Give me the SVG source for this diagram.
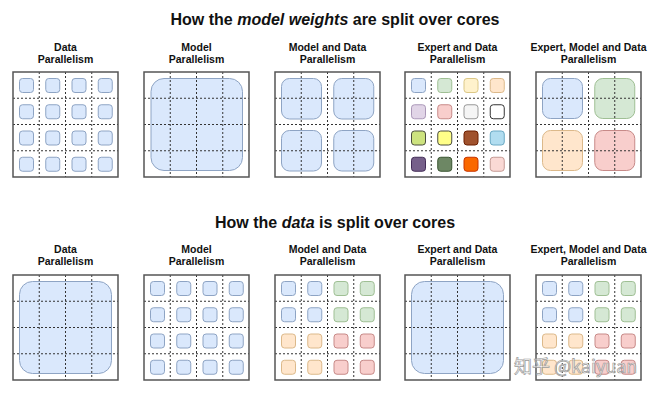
<svg xmlns="http://www.w3.org/2000/svg" xmlns:xlink="http://www.w3.org/1999/xlink" width="670" height="399" viewBox="0 0 670 399">
<style>
text{font-family:"Liberation Sans",Arial,sans-serif;font-weight:bold;fill:#111;text-anchor:middle}
.h{font-size:16px}
.l{font-size:10.5px}
.box{fill:none;stroke:#555;stroke-width:1.5}
.dash{stroke:#333;stroke-width:1;stroke-dasharray:2 2;fill:none}
rect.s{stroke-width:1}
.b{fill:#dae8fc;stroke:#8ea4c4}
.g{fill:#d5e8d4;stroke:#9fbf94}
.y{fill:#fff2cc;stroke:#dcc887}
.o{fill:#ffe6cc;stroke:#dcb98a}
.r{fill:#f8cecc;stroke:#c78a88}
.p{fill:#e1d5e7;stroke:#ab98b8}
.gw{fill:#f5f5f5;stroke:#999}
.wk{fill:#ffffff;stroke:#333}
.lm{fill:#cde37f;stroke:#4a4d3f}
.ly{fill:#ffff88;stroke:#4a4d3f}
.br{fill:#a0522d;stroke:#6d1f00}
.cy{fill:#b1ddf0;stroke:#6aa9c4}
.dp{fill:#76608a;stroke:#432d57}
.dg{fill:#6d8764;stroke:#3a5431}
.or{fill:#fa6800;stroke:#c73500}
.pk{fill:#fad9d5;stroke:#c49a94}
.wm{font-family:"Noto Sans CJK SC","Liberation Sans",sans-serif;font-weight:normal;font-size:18px;fill:#ffffff;fill-opacity:0.6;stroke:#9a9a9a;stroke-width:0.7;text-anchor:start}
</style>
<defs>
<g id="grid">
<path class="dash" d="M26.25 0V105M52.5 0V105M78.75 0V105M0 26.25H105M0 52.5H105M0 78.75H105"/>
<rect class="box" x="0" y="0" width="105" height="105"/>
</g>
</defs>
<rect width="670" height="399" fill="#ffffff"/>

<text class="h" x="335" y="25">How the <tspan font-style="italic">model weights</tspan> are split over cores</text>
<text class="h" x="335" y="228">How the <tspan font-style="italic">data</tspan> is split over cores</text>

<g id="labels-top">
<text class="l" x="65.5" y="50.5">Data</text><text class="l" x="65.5" y="63.3">Parallelism</text>
<text class="l" x="196.5" y="50.5">Model</text><text class="l" x="196.5" y="63.3">Parallelism</text>
<text class="l" x="327.5" y="50.5">Model and Data</text><text class="l" x="327.5" y="63.3">Parallelism</text>
<text class="l" x="457.5" y="50.5">Expert and Data</text><text class="l" x="457.5" y="63.3">Parallelism</text>
<text class="l" x="588.5" y="50.5">Expert, Model and Data</text><text class="l" x="588.5" y="63.3">Parallelism</text>
</g>
<g id="labels-bottom">
<text class="l" x="65.5" y="252.8">Data</text><text class="l" x="65.5" y="265.3">Parallelism</text>
<text class="l" x="196.5" y="252.8">Model</text><text class="l" x="196.5" y="265.3">Parallelism</text>
<text class="l" x="327.5" y="252.8">Model and Data</text><text class="l" x="327.5" y="265.3">Parallelism</text>
<text class="l" x="457.5" y="252.8">Expert and Data</text><text class="l" x="457.5" y="265.3">Parallelism</text>
<text class="l" x="588.5" y="252.8">Expert, Model and Data</text><text class="l" x="588.5" y="265.3">Parallelism</text>
</g>

<!-- TOP ROW -->
<g id="top-data" transform="translate(13,72)">
<rect class="s b" x="6.5" y="6.5" width="14" height="14" rx="3"/><rect class="s b" x="32.75" y="6.5" width="14" height="14" rx="3"/><rect class="s b" x="59" y="6.5" width="14" height="14" rx="3"/><rect class="s b" x="85.25" y="6.5" width="14" height="14" rx="3"/>
<rect class="s b" x="6.5" y="32.75" width="14" height="14" rx="3"/><rect class="s b" x="32.75" y="32.75" width="14" height="14" rx="3"/><rect class="s b" x="59" y="32.75" width="14" height="14" rx="3"/><rect class="s b" x="85.25" y="32.75" width="14" height="14" rx="3"/>
<rect class="s b" x="6.5" y="59" width="14" height="14" rx="3"/><rect class="s b" x="32.75" y="59" width="14" height="14" rx="3"/><rect class="s b" x="59" y="59" width="14" height="14" rx="3"/><rect class="s b" x="85.25" y="59" width="14" height="14" rx="3"/>
<rect class="s b" x="6.5" y="85.25" width="14" height="14" rx="3"/><rect class="s b" x="32.75" y="85.25" width="14" height="14" rx="3"/><rect class="s b" x="59" y="85.25" width="14" height="14" rx="3"/><rect class="s b" x="85.25" y="85.25" width="14" height="14" rx="3"/>
<use xlink:href="#grid" href="#grid"/>
</g>
<g id="top-model" transform="translate(144,72)">
<rect class="s b" x="7" y="6.5" width="91.5" height="92" rx="13"/>
<use xlink:href="#grid" href="#grid"/>
</g>
<g id="top-modeldata" transform="translate(275,72)">
<rect class="s b" x="6.5" y="6.5" width="40" height="40.5" rx="8"/><rect class="s b" x="58.75" y="6.5" width="40" height="40.5" rx="8"/>
<rect class="s b" x="6.5" y="58.5" width="40" height="40.5" rx="8"/><rect class="s b" x="58.75" y="58.5" width="40" height="40.5" rx="8"/>
<use xlink:href="#grid" href="#grid"/>
</g>
<g id="top-expert" transform="translate(405,72)">
<rect class="s b" x="6.5" y="6.5" width="14" height="14" rx="3"/><rect class="s g" x="32.75" y="6.5" width="14" height="14" rx="3"/><rect class="s y" x="59" y="6.5" width="14" height="14" rx="3"/><rect class="s o" x="85.25" y="6.5" width="14" height="14" rx="3"/>
<rect class="s p" x="6.5" y="32.75" width="14" height="14" rx="3"/><rect class="s r" x="32.75" y="32.75" width="14" height="14" rx="3"/><rect class="s gw" x="59" y="32.75" width="14" height="14" rx="3"/><rect class="s wk" x="85.25" y="32.75" width="14" height="14" rx="3"/>
<rect class="s lm" x="6.5" y="59" width="14" height="14" rx="3"/><rect class="s ly" x="32.75" y="59" width="14" height="14" rx="3"/><rect class="s br" x="59" y="59" width="14" height="14" rx="3"/><rect class="s cy" x="85.25" y="59" width="14" height="14" rx="3"/>
<rect class="s dp" x="6.5" y="85.25" width="14" height="14" rx="3"/><rect class="s dg" x="32.75" y="85.25" width="14" height="14" rx="3"/><rect class="s or" x="59" y="85.25" width="14" height="14" rx="3"/><rect class="s pk" x="85.25" y="85.25" width="14" height="14" rx="3"/>
<use xlink:href="#grid" href="#grid"/>
</g>
<g id="top-emd" transform="translate(536,72)">
<rect class="s b" x="6.5" y="6.5" width="40" height="40" rx="8"/><rect class="s g" x="58.75" y="6.5" width="40" height="40" rx="8"/>
<rect class="s o" x="6.5" y="58.5" width="40" height="40" rx="8"/><rect class="s r" x="58.75" y="58.5" width="40" height="40" rx="8"/>
<use xlink:href="#grid" href="#grid"/>
</g>

<!-- BOTTOM ROW -->
<g id="bottom-data" transform="translate(13,275)">
<rect class="s b" x="6.5" y="6.5" width="92" height="92" rx="13"/>
<use xlink:href="#grid" href="#grid"/>
</g>
<g id="bottom-model" transform="translate(144,275)">
<rect class="s b" x="6.5" y="6.5" width="14" height="14" rx="3"/><rect class="s b" x="32.75" y="6.5" width="14" height="14" rx="3"/><rect class="s b" x="59" y="6.5" width="14" height="14" rx="3"/><rect class="s b" x="85.25" y="6.5" width="14" height="14" rx="3"/>
<rect class="s b" x="6.5" y="32.75" width="14" height="14" rx="3"/><rect class="s b" x="32.75" y="32.75" width="14" height="14" rx="3"/><rect class="s b" x="59" y="32.75" width="14" height="14" rx="3"/><rect class="s b" x="85.25" y="32.75" width="14" height="14" rx="3"/>
<rect class="s b" x="6.5" y="59" width="14" height="14" rx="3"/><rect class="s b" x="32.75" y="59" width="14" height="14" rx="3"/><rect class="s b" x="59" y="59" width="14" height="14" rx="3"/><rect class="s b" x="85.25" y="59" width="14" height="14" rx="3"/>
<rect class="s b" x="6.5" y="85.25" width="14" height="14" rx="3"/><rect class="s b" x="32.75" y="85.25" width="14" height="14" rx="3"/><rect class="s b" x="59" y="85.25" width="14" height="14" rx="3"/><rect class="s b" x="85.25" y="85.25" width="14" height="14" rx="3"/>
<use xlink:href="#grid" href="#grid"/>
</g>
<g id="bottom-modeldata" transform="translate(275,275)">
<rect class="s b" x="6.5" y="6.5" width="14" height="14" rx="3"/><rect class="s b" x="32.75" y="6.5" width="14" height="14" rx="3"/><rect class="s g" x="59" y="6.5" width="14" height="14" rx="3"/><rect class="s g" x="85.25" y="6.5" width="14" height="14" rx="3"/>
<rect class="s b" x="6.5" y="32.75" width="14" height="14" rx="3"/><rect class="s b" x="32.75" y="32.75" width="14" height="14" rx="3"/><rect class="s g" x="59" y="32.75" width="14" height="14" rx="3"/><rect class="s g" x="85.25" y="32.75" width="14" height="14" rx="3"/>
<rect class="s o" x="6.5" y="59" width="14" height="14" rx="3"/><rect class="s o" x="32.75" y="59" width="14" height="14" rx="3"/><rect class="s r" x="59" y="59" width="14" height="14" rx="3"/><rect class="s r" x="85.25" y="59" width="14" height="14" rx="3"/>
<rect class="s o" x="6.5" y="85.25" width="14" height="14" rx="3"/><rect class="s o" x="32.75" y="85.25" width="14" height="14" rx="3"/><rect class="s r" x="59" y="85.25" width="14" height="14" rx="3"/><rect class="s r" x="85.25" y="85.25" width="14" height="14" rx="3"/>
<use xlink:href="#grid" href="#grid"/>
</g>
<g id="bottom-expert" transform="translate(405,275)">
<rect class="s b" x="6.5" y="6.5" width="92" height="92" rx="13"/>
<use xlink:href="#grid" href="#grid"/>
</g>
<g id="bottom-emd" transform="translate(536,275)">
<rect class="s b" x="6.5" y="6.5" width="14" height="14" rx="3"/><rect class="s b" x="32.75" y="6.5" width="14" height="14" rx="3"/><rect class="s g" x="59" y="6.5" width="14" height="14" rx="3"/><rect class="s g" x="85.25" y="6.5" width="14" height="14" rx="3"/>
<rect class="s b" x="6.5" y="32.75" width="14" height="14" rx="3"/><rect class="s b" x="32.75" y="32.75" width="14" height="14" rx="3"/><rect class="s g" x="59" y="32.75" width="14" height="14" rx="3"/><rect class="s g" x="85.25" y="32.75" width="14" height="14" rx="3"/>
<rect class="s o" x="6.5" y="59" width="14" height="14" rx="3"/><rect class="s o" x="32.75" y="59" width="14" height="14" rx="3"/><rect class="s r" x="59" y="59" width="14" height="14" rx="3"/><rect class="s r" x="85.25" y="59" width="14" height="14" rx="3"/>
<rect class="s o" x="6.5" y="85.25" width="14" height="14" rx="3"/><rect class="s o" x="32.75" y="85.25" width="14" height="14" rx="3"/><rect class="s r" x="59" y="85.25" width="14" height="14" rx="3"/><rect class="s r" x="85.25" y="85.25" width="14" height="14" rx="3"/>
<use xlink:href="#grid" href="#grid"/>
</g>

<text class="wm" x="514" y="373">知乎 @kaiyuan</text>
</svg>
